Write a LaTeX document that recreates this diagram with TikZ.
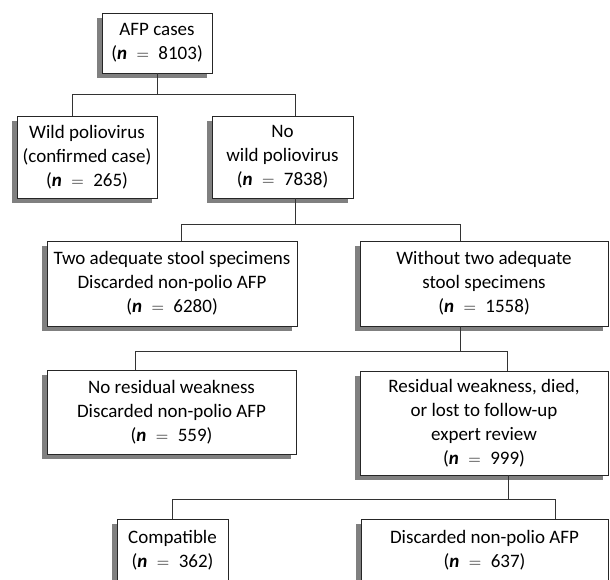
\documentclass[tikz,border=0pt]{standalone}
\usepackage{fontspec}
\setmainfont{Carlito}
\usetikzlibrary{shadows}

\newcommand{\ncount}[1]{(\textbf{\textit{n}}\enspace$=$\enspace#1)}

\begin{document}
\begin{tikzpicture}[x=1pt, y=-1pt,
  box/.style={draw=black!85, line width=0.8pt, fill=white, align=center,
    inner sep=0pt, font=\fontsize{19}{24}\selectfont,
    drop shadow={shadow xshift=-5pt, shadow yshift=-5pt, opacity=1, fill=black!50}},
  link/.style={draw=black!80, line width=0.8pt}]

  % Page frame (boxes at the bottom run off the page)
  \useasboundingbox (0,0) rectangle (610,579);
  \clip (0,0) rectangle (610,579);

  % Level 1
  \node[box, minimum width=110pt, minimum height=60pt] (afp) at (157,43)
    {AFP cases\\ \ncount{8103}};

  % Level 2: virus found or not
  \node[box, minimum width=140pt, minimum height=82pt] (wild) at (87,157)
    {Wild poliovirus\\(confirmed case)\\ \ncount{265}};
  \node[box, minimum width=141pt, minimum height=82pt] (nowild) at (282.5,157)
    {No\\wild poliovirus\\ \ncount{7838}};

  % Level 3: stool specimens
  \node[box, minimum width=250pt, minimum height=85pt] (two) at (172,283.5)
    {Two adequate stool specimens\\Discarded non-polio AFP\\ \ncount{6280}};
  \node[box, minimum width=248pt, minimum height=85pt] (without) at (484,283.5)
    {Without two adequate\\stool specimens\\ \ncount{1558}};

  % Level 4: follow-up
  \node[box, minimum width=249pt, minimum height=84pt] (nores) at (171.5,412)
    {No residual weakness\\Discarded non-polio AFP\\ \ncount{559}};
  \node[box, minimum width=248pt, minimum height=104pt] (res) at (484,423)
    {Residual weakness, died,\\or lost to follow-up\\expert review\\ \ncount{999}};

  % Level 5: expert classification
  \node[box, minimum width=111pt, minimum height=62pt] (compat) at (172.5,550)
    {Compatible\\ \ncount{362}};
  \node[box, minimum width=247pt, minimum height=62pt] (disc) at (484.5,550)
    {Discarded non-polio AFP\\ \ncount{637}};

  % Connectors
  \draw[link] (afp.south) -- ++(0,21) coordinate (j1);
  \draw[link] ([xshift=-15pt]wild.north) |- (j1) -| ([xshift=12.5pt]nowild.north);

  \draw[link] ([xshift=12.5pt]nowild.south) -- ++(0,26) coordinate (j2);
  \draw[link] ([xshift=9pt]two.north) |- (j2) -| ([xshift=-24pt]without.north);

  \draw[link] ([xshift=-24pt]without.south) -- ++(0,25) coordinate (j3);
  \draw[link] ([xshift=-36.5pt]nores.north) |- (j3) -| ([xshift=23pt]res.north);

  \draw[link] ([xshift=24pt]res.south) -- ++(0,24) coordinate (j4);
  \draw[link] (compat.north) |- (j4) -| ([xshift=70.5pt]disc.north);

\end{tikzpicture}
\end{document}
